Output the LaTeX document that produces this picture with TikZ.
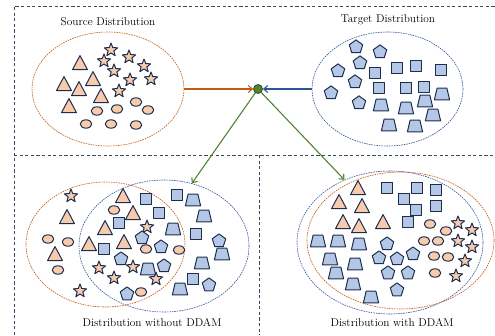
\documentclass[tikz,border=0pt]{standalone}
\usetikzlibrary{shapes.geometric,arrows.meta}
\definecolor{peach}{HTML}{F8CBAD}
\definecolor{paleblue}{HTML}{B4C7E7}
\definecolor{navy}{HTML}{1C2E4E}
\definecolor{rust}{HTML}{C55A11}
\definecolor{steel}{HTML}{2F5597}
\definecolor{leaf}{HTML}{548235}
\definecolor{frame}{HTML}{3A4A66}
\tikzset{
  shp/.style={draw=navy, line width=1pt, line join=round},
  ofill/.style={shp, fill=peach},
  bfill/.style={shp, fill=paleblue},
  tri/.pic={\path[ofill] (-7.5,6.6) -- (7.5,6.6) -- (0,-7.4) -- cycle;},
  strr/.pic={\path[ofill] (-90:7) -- (-54:3) -- (-18:7) -- (18:3) -- (54:7)
        -- (90:3) -- (126:7) -- (162:3) -- (198:7) -- (234:3) -- cycle;},
  blob/.pic={\path[ofill] (0,0) ellipse [x radius=5.8pt, y radius=4.2pt];},
  sq/.pic={\path[bfill] (-5.8,-5.8) rectangle (5.8,5.8);},
  pent/.pic={\path[bfill] (-90:7.1) -- (-18:7.1) -- (54:7.1) -- (126:7.1) -- (198:7.1) -- cycle;},
  trap/.pic={\path[bfill] (-7.6,5.8) -- (7.6,5.8) -- (4.9,-5.8) -- (-4.9,-5.8) -- cycle;},
  cloud/.style={draw, ellipse, inner sep=0pt, line width=0.6pt, dash pattern=on 1.6pt off 0.9pt},
  border/.style={draw=frame, line width=0.8pt, dash pattern=on 3.2pt off 2.4pt},
  flow/.style={line width=1.1pt, -{Straight Barb[length=4pt,width=7pt,line width=1.1pt]}},
  caption/.style={font=\fontsize{11.3}{13}\selectfont, text=black}
}
\begin{document}
\begin{tikzpicture}[x=1pt,y=-1pt]
\useasboundingbox (0,0) rectangle (495,335);

% dashed panel frame
\draw[border] (14,335) -- (14,6) -- (495,6);
\draw[border] (14,155) -- (495,155);
\draw[border] (259,155) -- (259,335);

% captions
\node[caption] (capS) at (108,22) {Source Distribution};
\node[caption] (capT) at (388,20) {Target Distribution};
\node[caption] (capW) at (152,323) {Distribution without DDAM};
\node[caption] (capD) at (392,323) {Distribution with DDAM};

% outline of each distribution
\node[cloud, draw=rust, minimum width=152pt, minimum height=114pt] (src) at (108,89) {};
\node[cloud, draw=steel, minimum width=151pt, minimum height=114pt] (tgt) at (387.5,89) {};
\node[cloud, draw=rust, minimum width=159pt, minimum height=125pt] (llO) at (105.5,244.5) {};
\node[cloud, draw=steel, minimum width=170pt, minimum height=132pt] (llB) at (164,246) {};
\node[cloud, draw=steel, minimum width=186pt, minimum height=143pt] (lrB) at (390,242.5) {};
\node[cloud, draw=rust, minimum width=187pt, minimum height=137pt] (lrO) at (400.5,240.5) {};

% merge point and flows
\node[circle, fill=leaf, draw=leaf!60!black, line width=0.8pt, minimum size=9pt, inner sep=0pt] (mix) at (258,89) {};
\draw[flow, rust] (src.east) -- (mix);
\draw[flow, steel] (tgt.west) -- (mix);
\draw[flow, leaf] (mix) -- (llB.66);
\draw[flow, leaf] (mix) -- (lrB.126);

% source samples
\foreach \x/\y in {80/63, 64/84, 93/79, 79/89, 101/96, 69/106} \pic at (\x,\y) {tri};
\foreach \x/\y in {111/50, 104/61, 129/57, 144/66, 114/71, 130/80, 151/79, 119/91} \pic at (\x,\y) {strr};
\foreach \x/\y in {136/102, 97/111, 117/109, 148/110, 86/124, 111/124, 136/125} \pic at (\x,\y) {blob};

% target samples
\foreach \x/\y in {356/47, 380/52, 360/63, 338/71, 355/82, 331/93, 359/103} \pic at (\x,\y) {pent};
\foreach \x/\y in {375/73, 397/68, 416/66, 441/70, 379/88, 406/88, 424/87} \pic at (\x,\y) {sq};
\foreach \x/\y in {442/94, 381/105, 406/108, 425/101, 433/115, 389/125, 415/126} \pic at (\x,\y) {trap};

% mixed samples without alignment
\foreach \x/\y in {71/196, 147/227, 99/268, 133/267, 114/278, 156/279, 80/291} \pic at (\x,\y) {strr};
\foreach \x/\y in {123/196, 67/217, 133/213, 105/228, 89/244, 124/242, 55/254} \pic at (\x,\y) {tri};
\foreach \x/\y in {114/210, 48/239, 68/242, 146/249, 179/250, 58/270, 141/292} \pic at (\x,\y) {blob};
\foreach \x/\y in {146/199, 177/195, 159/213, 119/223, 196/234, 104/249, 193/279} \pic at (\x,\y) {sq};
\foreach \x/\y in {142/238, 161/247, 219/241, 121/259, 164/266, 209/285, 127/294} \pic at (\x,\y) {pent};
\foreach \x/\y in {193/200, 204/216, 173/229, 222/254, 202/263, 148/269, 180/289} \pic at (\x,\y) {trap};

% mixed samples with alignment
\foreach \x/\y in {358/188, 339/202, 362/206, 343/222, 359/226, 383/222} \pic at (\x,\y) {tri};
\foreach \x/\y in {387/188, 417/188, 436/190, 404/199, 416/210, 436/206, 408/222} \pic at (\x,\y) {sq};
\foreach \x/\y in {430/224, 446/231, 424/241, 438/241, 434/256, 448/257, 435/273} \pic at (\x,\y) {blob};
\foreach \x/\y in {458/223, 472/230, 458/241, 472/247, 465/261, 456/276} \pic at (\x,\y) {strr};
\foreach \x/\y in {387/244, 413/254, 379/258, 397/259, 388/273, 408/273, 397/290} \pic at (\x,\y) {pent};
\foreach \x/\y in {318/241, 338/241, 359/244, 330/259, 355/264, 336/273, 353/284, 371/297} \pic at (\x,\y) {trap};
\end{tikzpicture}
\end{document}
